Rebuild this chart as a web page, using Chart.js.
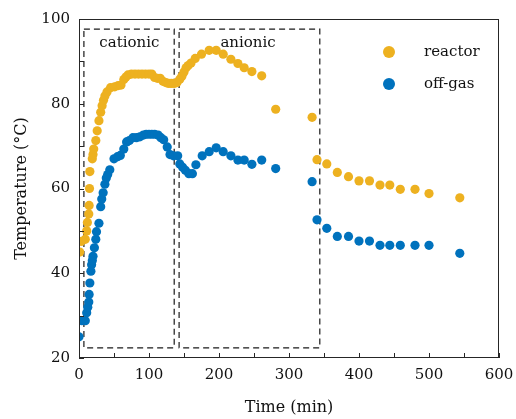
<!DOCTYPE html>
<html>
<head>
<meta charset="utf-8">
<script src="https://cdn.jsdelivr.net/npm/chart.js@4"></script>
<style>
  html, body { margin: 0; padding: 0; background: #fff; }
  #wrap { width: 516px; height: 419px; }
</style>
</head>
<body>
<div id="wrap"><canvas id="chart" width="516" height="419"></canvas></div>
<script>
// reactor temperature readings
const reactorTime = [1, 3, 9, 11, 12, 14, 14.5, 15, 15.5, 19, 20, 21, 24, 26, 28.5, 31, 33, 35, 37, 40,
  45, 51, 56, 60, 64, 67, 70, 75, 80, 85, 90, 95, 100, 104, 108, 112, 116, 120, 124, 128, 132, 136,
  140, 144, 147, 150, 153, 156, 160, 166, 175, 186, 196, 206, 217, 227, 236, 247, 261, 281,
  333, 340, 354, 369, 385, 400, 415, 430, 444, 459, 480, 500, 544];
const reactorTemp = [45, 47.5, 48, 50, 52, 54, 56, 60, 64, 67, 68, 69.3, 71.3, 73.6, 76, 78, 79.5, 80.8, 81.8, 82.8,
  83.8, 84, 84.3, 84.4, 85.7, 86.3, 86.8, 87, 87, 87, 87, 87, 87, 87, 86.2, 86, 86, 85.3, 85, 84.8, 84.8, 84.8,
  85, 85.8, 86.5, 87.5, 88.5, 89, 89.6, 90.7, 91.7, 92.6, 92.6, 91.7, 90.5, 89.5, 88.5, 87.6, 86.6, 78.7,
  76.8, 66.8, 65.8, 63.8, 62.8, 61.8, 61.8, 60.8, 60.8, 59.8, 59.8, 58.8, 57.8];

// off-gas temperature readings
const offgasTime = [0, 4, 9, 11, 12.5, 14, 14.5, 15.5, 17, 18, 19, 20, 22, 24, 25, 28.5, 31, 32.5, 34.5, 37, 39, 41,
  44, 50, 55, 59, 64, 68, 72, 77, 82, 87, 92, 96, 100, 104, 108, 113, 117, 121, 126, 130, 135,
  141, 144, 148, 152, 157, 162, 167, 176, 186, 196, 206, 217, 227, 236, 247, 261, 281,
  333, 340, 354, 369, 385, 400, 415, 430, 444, 459, 480, 500, 544];
const offgasTemp = [25, 28.8, 28.8, 30.7, 32, 33.2, 35, 37.7, 40.5, 42, 43, 44, 46, 48, 49.8, 51.8, 55.7, 57.5, 59, 61, 62.5, 63.3,
  64.4, 67, 67.5, 67.8, 69.3, 71, 71.3, 72, 72, 72.2, 72.6, 72.8, 72.8, 72.8, 72.8, 72.6, 72, 71.5, 69.8, 68, 67.7,
  67.7, 65.8, 65, 64.3, 63.5, 63.5, 65.6, 67.7, 68.7, 69.6, 68.7, 67.7, 66.7, 66.7, 65.7, 66.7, 64.7,
  61.6, 52.6, 50.6, 48.7, 48.7, 47.6, 47.6, 46.6, 46.6, 46.6, 46.6, 46.6, 44.7];

// dashed regions: [label, tStart, tEnd]
const regions = [['cationic', 7, 136], ['anionic', 143, 344]];
const regionLabelAt = [29, 202];
const regionTempRange = [22.4, 97.6];

const seriesNames = ['reactor', 'off-gas'];
const seriesColors = ['#EDB120', '#0072BD'];

const FONT = "'DejaVu Serif', serif";

function toPoints(ts, vs) {
  return ts.map((t, i) => ({ x: t, y: vs[i] }));
}

const framePlugin = {
  id: 'frame',
  beforeDatasetsDraw(chart) {
    const { ctx, scales: { x, y } } = chart;
    ctx.save();
    ctx.strokeStyle = '#1a1a1a';
    ctx.lineWidth = 1.2;
    ctx.setLineDash([6, 4]);
    const yT = y.getPixelForValue(regionTempRange[1]);
    const yB = y.getPixelForValue(regionTempRange[0]);
    regions.forEach((r, i) => {
      const xL = x.getPixelForValue(r[1]);
      const xR = x.getPixelForValue(r[2]);
      ctx.strokeRect(xL, yT, xR - xL, yB - yT);
    });
    ctx.setLineDash([]);
    ctx.fillStyle = '#111';
    ctx.font = '15px ' + FONT;
    ctx.textBaseline = 'middle';
    ctx.textAlign = 'left';
    regions.forEach((r, i) => {
      ctx.fillText(r[0], x.getPixelForValue(regionLabelAt[i]), y.getPixelForValue(94.3));
    });
    ctx.restore();
  },
  afterDraw(chart) {
    const { ctx, chartArea: a, scales: { x, y } } = chart;
    ctx.save();
    ctx.strokeStyle = '#262626';
    ctx.lineWidth = 1;
    ctx.strokeRect(a.left + 0.5, a.top + 0.5, a.right - a.left - 1, a.bottom - a.top - 1);
    ctx.beginPath();
    for (let t = 0; t <= 600; t += 50) {
      const px = Math.round(x.getPixelForValue(t)) + 0.5;
      ctx.moveTo(px, a.bottom);
      ctx.lineTo(px, a.bottom - 5);
    }
    for (let v = 20; v <= 100; v += 10) {
      const py = Math.round(y.getPixelForValue(v)) + 0.5;
      ctx.moveTo(a.left, py);
      ctx.lineTo(a.left + 5, py);
    }
    ctx.stroke();

    // legend
    ctx.font = '15px ' + FONT;
    ctx.textBaseline = 'middle';
    ctx.textAlign = 'left';
    seriesNames.forEach((name, i) => {
      const cy = 52 + i * 32;
      ctx.fillStyle = seriesColors[i];
      ctx.beginPath();
      ctx.arc(389, cy, 6, 0, Math.PI * 2);
      ctx.fill();
      ctx.fillStyle = '#111';
      ctx.fillText(name, 424, cy);
    });
    ctx.restore();
  }
};

new Chart(document.getElementById('chart'), {
  type: 'scatter',
  data: {
    datasets: [
      { label: seriesNames[0], data: toPoints(reactorTime, reactorTemp), backgroundColor: seriesColors[0], borderWidth: 0, pointRadius: 4.6 },
      { label: seriesNames[1], data: toPoints(offgasTime, offgasTemp), backgroundColor: seriesColors[1], borderWidth: 0, pointRadius: 4.6 }
    ]
  },
  options: {
    responsive: false,
    animation: false,
    layout: { padding: { left: 0, right: 17, top: 19, bottom: 0 } },
    plugins: { legend: { display: false }, tooltip: { enabled: false } },
    scales: {
      x: {
        type: 'linear', min: 0, max: 600,
        grid: { display: false, drawTicks: false },
        border: { display: false },
        ticks: { stepSize: 100, padding: 8, color: '#111', font: { family: FONT, size: 15 } },
        title: { display: true, text: 'Time (min)', color: '#111', font: { family: FONT, size: 16 }, padding: { top: 4, bottom: 2 } },
        afterFit(s) { s.height = 61; s.paddingRight = 0; s.paddingLeft = 0; }
      },
      y: {
        type: 'linear', min: 20, max: 100,
        grid: { display: false, drawTicks: false },
        border: { display: false },
        ticks: { stepSize: 20, padding: 9, color: '#111', font: { family: FONT, size: 15 } },
        title: { display: true, text: 'Temperature (°C)', color: '#111', font: { family: FONT, size: 16 }, padding: { top: 12, bottom: 4 } },
        afterFit(s) { s.width = 79; s.paddingTop = 0; s.paddingBottom = 0; }
      }
    }
  },
  plugins: [framePlugin]
});
</script>
</body>
</html>
